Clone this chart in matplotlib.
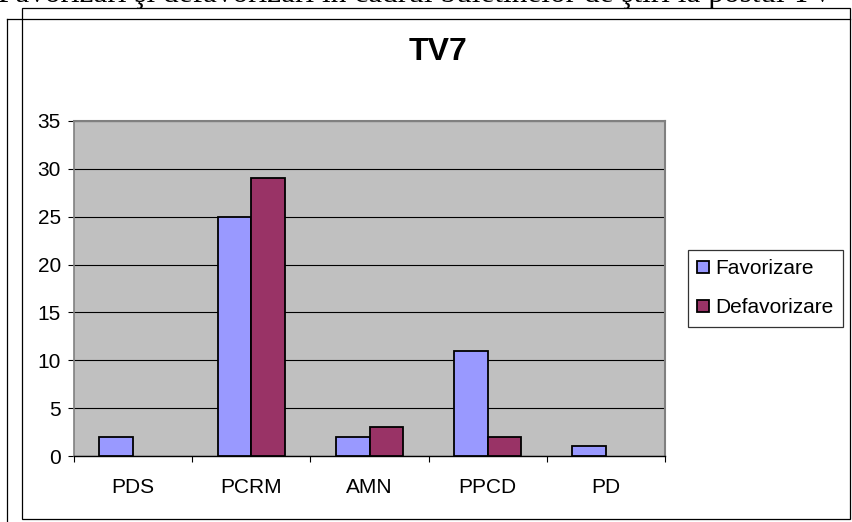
import matplotlib
matplotlib.use("Agg")
import matplotlib.pyplot as plt
import numpy as np
from matplotlib.lines import Line2D
from matplotlib.patches import Rectangle

# Data
parties = ['PDS', 'PCRM', 'AMN', 'PPCD', 'PD']
favorizare = [2, 25, 2, 11, 1]
defavorizare = [0, 29, 3, 2, 0]

W, H = 852, 522
fig = plt.figure(figsize=(W / 100, H / 100), dpi=100)
plt.rcParams['font.family'] = ['Liberation Sans', 'DejaVu Sans']


def fx(px):
    return px / W


def fy(py):
    return 1 - py / H


# frame lines around the chart
lw = 0.9
fig.add_artist(Line2D([fx(7), fx(7)], [fy(19), fy(522)], color='black', lw=lw))
fig.add_artist(Line2D([fx(7), fx(850)], [fy(19), fy(19)], color='black', lw=lw))
fig.add_artist(Rectangle((fx(22), fy(519)), fx(850) - fx(22), fy(8) - fy(519),
                         fill=False, edgecolor='black', lw=lw))

# cut-off heading at top
fig.text(-0.002, fy(2), 'Favorizări şi defavorizări în cadrul buletinelor de ştiri la postul TV',
         family=['Liberation Serif', 'DejaVu Serif'], fontsize=22.5, va='baseline', ha='left')

ax = fig.add_axes([fx(74), fy(456), fx(665) - fx(74), fy(121) - fy(456)])
ax.set_facecolor('#C0C0C0')

x = np.arange(len(parties))
w = 1 / 3.5
fav_lw = [1.3 if v > 0 else 0 for v in favorizare]
def_lw = [1.3 if v > 0 else 0 for v in defavorizare]
ax.bar(x - w / 2, favorizare, w, color='#9999FF', edgecolor='black', lw=fav_lw,
       label='Favorizare', zorder=3)
ax.bar(x + w / 2, defavorizare, w, color='#993366', edgecolor='black', lw=def_lw,
       label='Defavorizare', zorder=3)

ax.set_xlim(-0.5, len(parties) - 0.5)
ax.set_ylim(0, 35)
ax.set_yticks(range(0, 36, 5))
ax.yaxis.grid(True, color='black', lw=0.8, zorder=1)
ax.set_axisbelow(True)

ax.set_xticks(x)
ax.set_xticklabels(parties, fontsize=15)
ax.set_xticks(np.arange(-0.5, len(parties), 1), minor=True)
ax.tick_params(axis='x', which='major', length=0, pad=16)
ax.tick_params(axis='x', which='minor', length=4.5, width=0.8, color='black')
ax.tick_params(axis='y', length=4.5, width=0.8, labelsize=15, pad=5)

for s in ['top', 'right']:
    ax.spines[s].set_color('#808080')
    ax.spines[s].set_linewidth(1.5)
ax.spines['left'].set_color('#808080')
ax.spines['left'].set_linewidth(1.2)
ax.spines['bottom'].set_color('black')
ax.spines['bottom'].set_linewidth(1)

fig.text(fx(438), fy(52), 'TV7', fontsize=23, fontweight='bold', ha='center', va='center')

leg = fig.legend(loc='upper left', bbox_to_anchor=(fx(688), fy(250)), fontsize=15,
                 frameon=True, fancybox=False, edgecolor='black', handlelength=0.55,
                 handleheight=0.55, handletextpad=0.3, labelspacing=0.95, borderpad=0.45,
                 borderaxespad=0)
leg.get_frame().set_linewidth(0.9)
for h in leg.legend_handles:
    h.set_linewidth(1.3)

fig.savefig('out.png', dpi=100)
